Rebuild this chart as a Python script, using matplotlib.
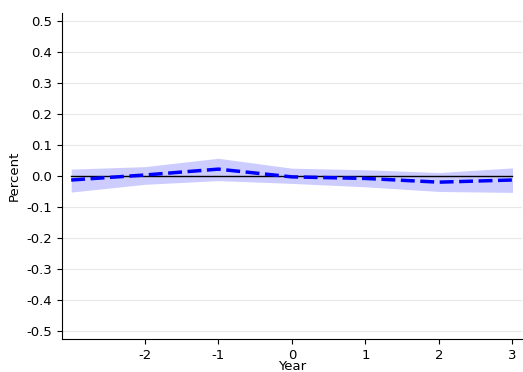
import matplotlib.pyplot as plt
import numpy as np

# Event-time estimates with confidence band
years = [-3, -2, -1, 0, 1, 2, 3]
coef = [-0.013, 0.003, 0.022, -0.003, -0.008, -0.020, -0.013]
upper = [0.022, 0.030, 0.057, 0.025, 0.020, 0.011, 0.026]
lower = [-0.052, -0.027, -0.015, -0.024, -0.035, -0.050, -0.053]
yticks = [-0.5, -0.4, -0.3, -0.2, -0.1, 0.0, 0.1, 0.2, 0.3, 0.4, 0.5]
xticks = [-2, -1, 0, 1, 2, 3]

fig = plt.figure(figsize=(5.23, 3.72), dpi=100)
ax = fig.add_axes([0.1185, 0.089, 0.879, 0.876])

for yv in yticks:
    if yv != 0.0:
        ax.axhline(yv, color='#e8e8e8', lw=0.8, zorder=0)

ax.fill_between(years, lower, upper, color='blue', alpha=0.2, lw=0)
ax.plot(years, np.zeros(len(years)), color='black', lw=1)
ax.plot(years, coef, color='blue', lw=2.5, ls=(0, (4, 1.6)))

ax.set_xlim(-3.125, 3.125)
ax.set_ylim(-0.525, 0.525)
ax.set_xticks(xticks)
ax.set_xticklabels([str(x) for x in xticks], fontsize=9.5)
ax.set_yticks(yticks)
ax.set_yticklabels(['%.1f' % y for y in yticks], fontsize=9.5)
ax.set_xlabel('Year', fontsize=9.5, labelpad=-1)
ax.set_ylabel('Percent', fontsize=9.5)
ax.spines['top'].set_visible(False)
ax.spines['right'].set_visible(False)

fig.savefig('out.png', dpi=100)
